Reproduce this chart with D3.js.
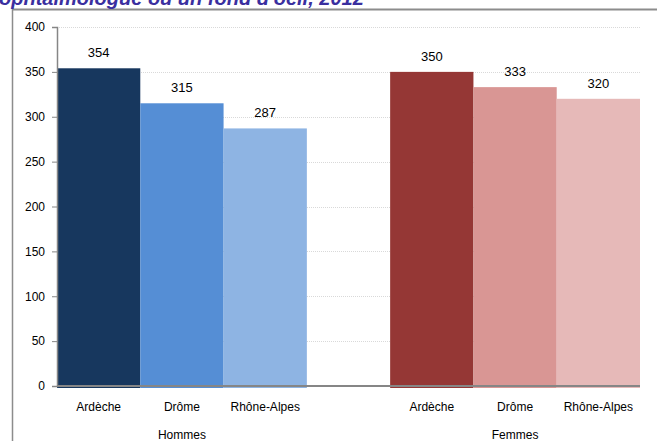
<!DOCTYPE html>
<html>
<head>
<meta charset="utf-8">
<script src="https://cdn.jsdelivr.net/npm/d3@7"></script>
<style>
  body { margin: 0; background: #fff; }
  svg { display: block; font-family: "Liberation Sans", Arial, sans-serif; }
</style>
</head>
<body>
<svg width="657" height="441"></svg>
<script>
const groups = ["Hommes", "Femmes"];
const regions = ["Ardèche", "Drôme", "Rhône-Alpes"];
const hommes = [354, 315, 287];
const femmes = [350, 333, 320];
const yTicks = [0, 50, 100, 150, 200, 250, 300, 350, 400];
const colorsHommes = ["#17375e", "#558ed5", "#8eb4e3"];
const colorsFemmes = ["#953735", "#d99694", "#e6b9b8"];

const svg = d3.select("svg");

// frame (top + left borders only, the rest is cut off)
svg.append("line").attr("x1", 12).attr("x2", 657).attr("y1", 9.5).attr("y2", 9.5)
    .attr("stroke", "#8c8c8c").attr("stroke-width", 2);
svg.append("line").attr("x1", 12.5).attr("x2", 12.5).attr("y1", 9).attr("y2", 441)
    .attr("stroke", "#8c8c8c").attr("stroke-width", 1.5);

// title, partly cut by the top of the picture
svg.append("text")
    .attr("x", -1).attr("y", 5)
    .style("font-size", "20px").style("font-weight", "bold").style("font-style", "italic")
    .attr("fill", "#3a2f9f")
    .text("ophtalmologue ou un fond d'oeil, 2012");

const plotLeft = 57, plotRight = 640, plotTop = 27, plotBottom = 386;

const y = d3.scaleLinear().domain([0, 400]).range([plotBottom, plotTop]);

const x0 = d3.scaleBand()
    .domain(groups)
    .range([plotLeft, plotRight])
    .paddingInner(0.25)
    .paddingOuter(0);

const x1 = d3.scaleBand()
    .domain(regions)
    .range([0, x0.bandwidth()]);

// grid
svg.append("g").selectAll("line")
    .data(yTicks.filter(d => d > 0))
    .join("line")
    .attr("x1", plotLeft).attr("x2", plotRight)
    .attr("y1", d => Math.round(y(d)) + 0.5).attr("y2", d => Math.round(y(d)) + 0.5)
    .attr("stroke", "#d9d9d9").attr("stroke-dasharray", "1,1");

const data = [
    {group: "Hommes", values: hommes, colors: colorsHommes},
    {group: "Femmes", values: femmes, colors: colorsFemmes}
];

const g = svg.append("g").selectAll("g")
    .data(data)
    .join("g")
    .attr("transform", d => `translate(${x0(d.group)},0)`);

g.selectAll("rect")
    .data(d => d.values.map((v, i) => ({region: regions[i], value: v, color: d.colors[i]})))
    .join("rect")
    .attr("x", d => x1(d.region))
    .attr("width", x1.bandwidth())
    .attr("y", d => y(d.value))
    .attr("height", d => plotBottom + 2 - y(d.value))
    .attr("fill", d => d.color);

g.selectAll("text.val")
    .data(d => d.values.map((v, i) => ({region: regions[i], value: v})))
    .join("text")
    .attr("class", "val")
    .attr("x", d => x1(d.region) + x1.bandwidth() / 2)
    .attr("y", d => y(d.value) - 11)
    .attr("text-anchor", "middle")
    .style("font-size", "13px")
    .attr("fill", "#000")
    .text(d => d.value);

// category labels
g.selectAll("text.cat")
    .data(regions)
    .join("text")
    .attr("class", "cat")
    .attr("x", d => x1(d) + x1.bandwidth() / 2)
    .attr("y", 411)
    .attr("text-anchor", "middle")
    .style("font-size", "12px")
    .text(d => d);

svg.append("g").selectAll("text")
    .data(groups)
    .join("text")
    .attr("x", d => x0(d) + x0.bandwidth() / 2)
    .attr("y", 439)
    .attr("text-anchor", "middle")
    .style("font-size", "12px")
    .text(d => d);

// y axis
const yAxis = svg.append("g")
    .attr("transform", `translate(${plotLeft},0)`)
    .call(d3.axisLeft(y).tickValues(yTicks).tickSize(5).tickPadding(7));
yAxis.select(".domain").attr("stroke", "#868686").attr("stroke-width", 1.5);
yAxis.selectAll(".tick line").attr("stroke", "#868686");
yAxis.selectAll(".tick text").style("font-size", "12px").attr("fill", "#000")
    .style("font-family", "Liberation Sans, Arial, sans-serif");

// bottom axis line drawn over the bars
svg.append("line")
    .attr("x1", plotLeft).attr("x2", plotRight)
    .attr("y1", plotBottom).attr("y2", plotBottom)
    .attr("stroke", "#868686").attr("stroke-width", 2);
</script>
</body>
</html>
